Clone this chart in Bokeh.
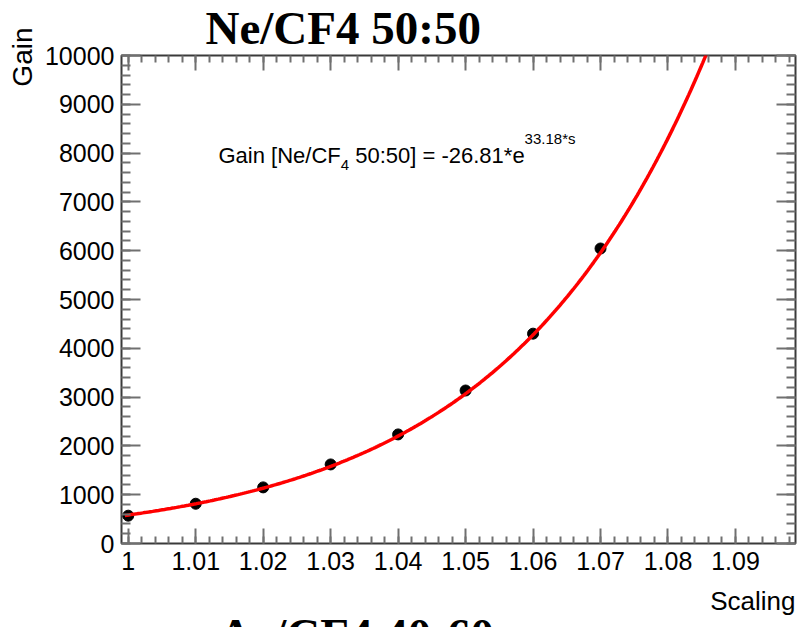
import numpy as np
from bokeh.plotting import figure
from bokeh.models import (Range1d, SingleIntervalTicker, LinearAxis, Label,
                          Title, CustomJSTickFormatter)
from bokeh.embed import file_html
from bokeh.resources import INLINE

# measured gain versus field scaling, Ne/CF4 50:50
scaling = [1.00, 1.01, 1.02, 1.03, 1.04, 1.05, 1.06, 1.07]
gain = [570, 815, 1150, 1620, 2235, 3135, 4300, 6045]

# exponential fit parameters: gain = exp(p0 + p1 * s)
fit_p0 = -26.81
fit_p1 = 33.18

title_text = "Ne/CF4 50:50"
next_title_text = "Ar/CF4 40:60"

s_curve = np.linspace(0.9995, 1.0875, 300)
g_curve = np.exp(fit_p0 + fit_p1 * s_curve)

W, H = 797, 627
LEFT, RIGHT, TOP, BOTTOM = 121, 2, 55, 84
p = figure(width=W, height=H, x_range=Range1d(0.999, 1.0989),
           y_range=Range1d(0, 10000), output_backend="svg", title=None,
           toolbar_location=None, min_border_left=LEFT, min_border_right=RIGHT,
           min_border_top=TOP, min_border_bottom=BOTTOM)
p.background_fill_color = "white"
p.border_fill_color = "white"
p.grid.visible = False
p.outline_line_color = "#3a3a3a"
p.outline_line_width = 2

xticker = SingleIntervalTicker(interval=0.01, num_minor_ticks=5)
yticker = SingleIntervalTicker(interval=1000, num_minor_ticks=5)
xfmt = CustomJSTickFormatter(code="return String(Number(tick.toFixed(2)));")
blank = CustomJSTickFormatter(code="return '';")

top_axis = LinearAxis()
right_axis = LinearAxis()
p.add_layout(top_axis, "above")
p.add_layout(right_axis, "right")

def style_axis(ax, ticker, major_in, minor_in):
    ax.ticker = ticker
    ax.axis_line_color = None
    ax.major_tick_in = major_in
    ax.major_tick_out = 0
    ax.minor_tick_in = minor_in
    ax.minor_tick_out = 0
    ax.major_tick_line_color = "#707070"
    ax.major_tick_line_width = 2
    ax.minor_tick_line_color = "#707070"
    ax.minor_tick_line_width = 2
    ax.axis_label = None
    ax.major_label_text_font = "Liberation Sans"
    ax.major_label_text_font_size = "25px"
    ax.major_label_text_color = "black"

for ax in p.below:
    style_axis(ax, xticker, 15, 7)
    ax.formatter = xfmt
    ax.major_label_standoff = 8
for ax in p.left:
    style_axis(ax, yticker, 19, 9)
    ax.major_label_standoff = 7
style_axis(top_axis, xticker, 15, 7)
style_axis(right_axis, yticker, 19, 9)
for ax in (top_axis, right_axis):
    ax.formatter = blank
    ax.major_label_standoff = 0
    ax.major_label_text_font_size = "0px"

p.scatter(scaling, gain, size=11, color="black")
p.line(s_curve, g_curve, line_color="#ff0000", line_width=3.5)

# page heading above the frame
p.add_layout(Title(text=title_text, align="left", offset=84, standoff=-1,
                   vertical_align="top", text_font="Liberation Serif",
                   text_font_style="bold", text_font_size="47px",
                   text_color="black"), "above")

# axis titles
p.add_layout(Title(text="Gain", align="right", offset=-28, standoff=7,
                   vertical_align="bottom", text_font="Liberation Sans",
                   text_font_style="normal", text_font_size="28px",
                   text_color="black"), "left")
p.add_layout(Title(text="Scaling", align="right", offset=0, standoff=23,
                   vertical_align="bottom", text_font="Liberation Sans",
                   text_font_style="normal", text_font_size="26px",
                   text_color="black"), "below")

# heading of the next panel, mostly below the page edge
p.add_layout(Title(text=next_title_text, align="left", offset=97, standoff=-66,
                   vertical_align="bottom", text_font="Liberation Serif",
                   text_font_style="bold", text_font_size="47px",
                   text_color="black"), "below")

FRAME_BOTTOM = H - BOTTOM

def scr(x, y_top, text, size):
    # screen units are measured from the frame's lower-left corner
    p.add_layout(Label(x=x - LEFT, y=FRAME_BOTTOM - y_top,
                       x_units="screen", y_units="screen",
                       text=text, text_font="Liberation Sans",
                       text_font_size=size, text_align="left",
                       text_baseline="alphabetic", text_color="black"))

# fit formula with sub- and superscript
x0 = 218
scr(x0, 155, "Gain [Ne/CF", "22px")
x1 = x0 + 5.557 * 22
scr(x1, 164, "4", "15px")
x2 = x1 + 0.556 * 15 + 0.278 * 22
scr(x2, 155, "50:50] = -26.81*e", "22px")
x3 = x2 + 7.700 * 22
scr(x3, 138, "33.18*s", "15px")

open("out.html", "w").write(file_html(p, INLINE))
